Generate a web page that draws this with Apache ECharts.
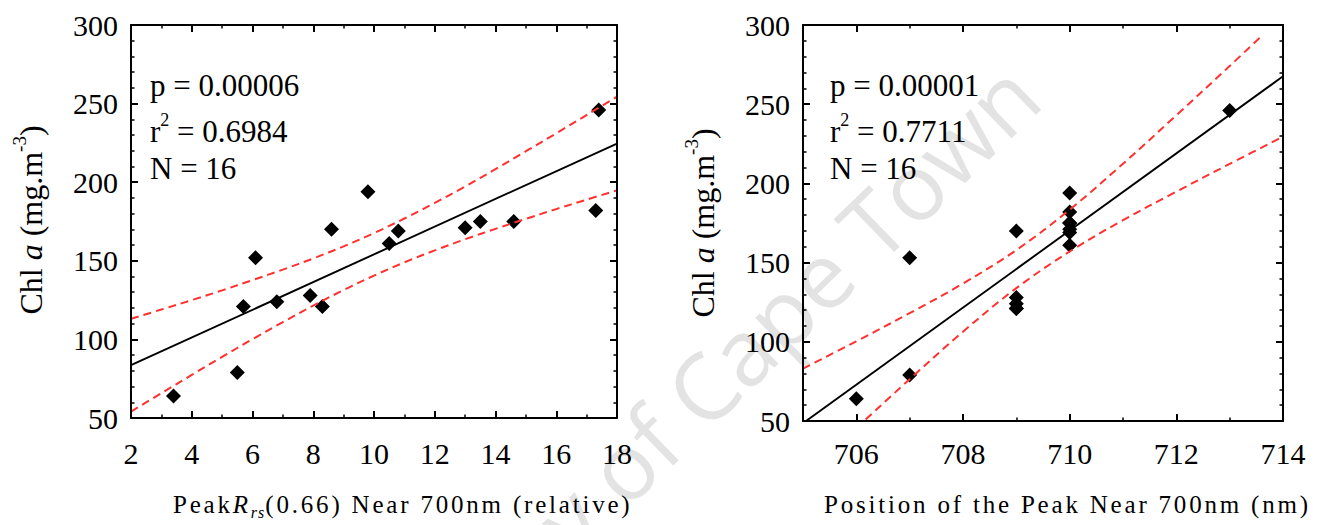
<!DOCTYPE html>
<html>
<head>
<meta charset="utf-8">
<script src="https://cdn.jsdelivr.net/npm/echarts@6/dist/echarts.min.js"></script>
<style>
html,body{margin:0;padding:0;background:#fff;}
#chart{width:1325px;height:525px;}
#chart text[style*="25px"]{letter-spacing:2.8px;}
#chart text[style*="16px"]{letter-spacing:1px;}
</style>
</head>
<body>
<div id="chart"></div>
<script>
// ---------------- data ----------------
// Left panel: Peak Rrs(0.66) vs Chl a
const leftX = [3.4, 5.5, 5.7, 6.1, 6.8, 7.9, 8.3, 8.6, 9.8, 10.5, 10.8, 13.0, 13.5, 14.6, 17.3, 17.4];
const leftY = [64, 79, 121, 152, 124, 128, 121, 170, 194, 161, 169, 171, 175, 175, 182, 246];
const leftFitX = [2, 18];
const leftFitY = [83.6, 224.6];
const leftBandX = [2, 3, 4, 5, 6, 7, 8, 9, 10, 11, 12, 13, 14, 15, 16, 17, 18];
const leftUpper = [113.1, 119.0, 125.0, 131.2, 137.7, 144.4, 151.5, 159.2, 167.6, 176.9, 186.8, 197.3, 208.3, 219.7, 231.1, 242.7, 254.4];
const leftLower = [54.1, 65.8, 77.4, 88.9, 100.1, 111.0, 121.5, 131.4, 140.6, 149.0, 156.6, 163.7, 170.3, 176.7, 182.9, 188.9, 194.8];
const leftXTicks = [2, 18, 2];          // min, max, interval
const leftStats = ['p = 0.00006', '0.6984', 'N = 16'];

// Right panel: position of the peak vs Chl a
const rightX = [706, 707, 707, 709, 709, 709, 709, 709, 710, 710, 710, 710, 710, 710, 710, 713];
const rightY = [64, 79, 153, 170, 128, 124, 121, 121, 194, 182, 175, 175, 171, 169, 161, 246];
const rightFitX = [705, 714];
const rightFitY = [48.6, 267.6];
const rightUpperX = [705, 706, 707, 708, 709, 710, 711, 712, 713, 713.6];
const rightUpper = [83.1, 100.3, 118.1, 136.8, 157.9, 183.4, 212.4, 243.0, 274.1, 293.1];
const rightLowerX = [706, 707, 708, 709, 710, 711, 712, 713, 714];
const rightLower = [45.5, 76.4, 106.4, 133.9, 157.0, 176.8, 194.8, 212.3, 229.5];
const rightXLabels = [706, 708, 710, 712, 714];
const rightXMinor = [707, 709, 711, 713];
const rightStats = ['p = 0.00001', '0.7711', 'N = 16'];

const yTicks = [50, 300, 50];             // min, max, interval

// ---------------- helpers ----------------
const SERIF = '"Liberation Serif", "Times New Roman", serif';
const pairs = (xs, ys) => xs.map((x, i) => [x, ys[i]]);

const axisLine = { show: true, onZero: false, lineStyle: { color: '#000', width: 2 } };
const majorTick = { show: true, inside: true, length: 7, lineStyle: { color: '#000', width: 2 } };
const minorTickLine = { color: '#000', width: 1.5 };
const tickLabel = (margin, extra) => Object.assign({
  show: true, margin: margin, fontSize: 30, fontFamily: SERIF, color: '#000',
  showMinLabel: true, showMaxLabel: true
}, extra || {});
const noSplit = { splitLine: { show: false }, minorSplitLine: { show: false } };

function xAx(grid, pos, min, max, interval, labelMargin, more) {
  return Object.assign({
    type: 'value', gridIndex: grid, position: pos, min: min, max: max, interval: interval,
    axisLine: axisLine, axisTick: majorTick,
    axisLabel: labelMargin == null ? { show: false } : tickLabel(labelMargin),
    z: 5
  }, noSplit, more || {});
}
function yAx(grid, pos, showLabel) {
  return Object.assign({
    type: 'value', gridIndex: grid, position: pos, min: yTicks[0], max: yTicks[1], interval: yTicks[2],
    axisLine: axisLine, axisTick: majorTick,
    minorTick: { show: true, splitNumber: 5, length: 3.5, lineStyle: minorTickLine },
    axisLabel: showLabel ? tickLabel(13, { padding: [4, 0, 0, 0] }) : { show: false },
    z: 5
  }, noSplit);
}

const leftMinorTick = { minorTick: { show: true, splitNumber: 2, length: 3.5, lineStyle: minorTickLine } };

const xAxis = [
  xAx(0, 'bottom', leftXTicks[0], leftXTicks[1], leftXTicks[2], 20, leftMinorTick),
  xAx(0, 'top', leftXTicks[0], leftXTicks[1], leftXTicks[2], null, leftMinorTick),
  xAx(1, 'bottom', rightFitX[0], rightFitX[1], 1, null, {
    axisTick: Object.assign({}, majorTick, { customValues: rightXLabels }),
    axisLabel: tickLabel(17, { customValues: rightXLabels })
  }),
  xAx(1, 'bottom', rightFitX[0], rightFitX[1], 1, null, {
    axisLine: { show: false },
    axisTick: { show: true, inside: true, length: 3.5, lineStyle: minorTickLine, customValues: rightXMinor }
  }),
  xAx(1, 'top', rightFitX[0], rightFitX[1], 1, null, {
    axisTick: Object.assign({}, majorTick, { customValues: rightXLabels })
  }),
  xAx(1, 'top', rightFitX[0], rightFitX[1], 1, null, {
    axisLine: { show: false },
    axisTick: { show: true, inside: true, length: 3.5, lineStyle: minorTickLine, customValues: rightXMinor }
  })
];

const yAxis = [
  yAx(0, 'left', true),
  yAx(0, 'right', false),
  yAx(1, 'left', true),
  yAx(1, 'right', false)
];

function scatter(xi, yi, data) {
  return { type: 'scatter', xAxisIndex: xi, yAxisIndex: yi, data: data,
    symbol: 'diamond', symbolSize: 15, itemStyle: { color: '#000', opacity: 1 }, z: 2, silent: true };
}
function fit(xi, yi, data) {
  return { type: 'line', xAxisIndex: xi, yAxisIndex: yi, data: data, symbol: 'none',
    lineStyle: { color: '#000', width: 1.9 }, z: 3, clip: true, silent: true };
}
function band(xi, yi, data) {
  return { type: 'line', xAxisIndex: xi, yAxisIndex: yi, data: data, symbol: 'none', smooth: 0.35,
    lineStyle: { color: '#ff3030', width: 2, type: [8, 5] }, z: 4, clip: true, silent: true };
}

const series = [
  scatter(0, 0, pairs(leftX, leftY)),
  fit(0, 0, pairs(leftFitX, leftFitY)),
  band(0, 0, pairs(leftBandX, leftUpper)),
  band(0, 0, pairs(leftBandX, leftLower)),
  scatter(2, 2, pairs(rightX, rightY)),
  fit(2, 2, pairs(rightFitX, rightFitY)),
  band(2, 2, pairs(rightUpperX, rightUpper)),
  band(2, 2, pairs(rightLowerX, rightLower))
];

// ---------------- texts ----------------
const annRich = {
  n: { fontSize: 31, fontFamily: SERIF, color: '#000', lineHeight: 40 },
  s: { fontSize: 18, fontFamily: SERIF, color: '#000', lineHeight: 17, verticalAlign: 'top' }
};
function statTexts(x, stats) {
  return [
    { type: 'text', x: x, y: 85.5, z: 10, silent: true,
      style: { text: stats[0], fontSize: 31, fontFamily: SERIF, fill: '#000', textAlign: 'left', verticalAlign: 'middle' } },
    { type: 'text', x: x, y: 131, z: 10, silent: true,
      style: { text: '{n|r}{s|2}{n| = ' + stats[1] + '}', rich: annRich, textAlign: 'left', verticalAlign: 'middle' } },
    { type: 'text', x: x, y: 168, z: 10, silent: true,
      style: { text: stats[2], fontSize: 31, fontFamily: SERIF, fill: '#000', textAlign: 'left', verticalAlign: 'middle' } }
  ];
}

const yTitleRich = {
  n: { fontSize: 32, fontFamily: SERIF, color: '#000', lineHeight: 42 },
  i: { fontSize: 32, fontFamily: SERIF, fontStyle: 'italic', color: '#000', lineHeight: 42 },
  s: { fontSize: 19, fontFamily: SERIF, color: '#000', lineHeight: 19, verticalAlign: 'top' }
};
function yTitle(x, y) {
  return { type: 'text', x: x, y: y, rotation: Math.PI / 2, z: 10, silent: true,
    style: { text: '{n|Chl }{i|a}{n| (mg.m}{s|-3}{n|)}', rich: yTitleRich, textAlign: 'center', verticalAlign: 'middle' } };
}

const SP = 2.8;
const xTitleRich = {
  n1: { fontSize: 25, fontFamily: SERIF, color: '#000', lineHeight: 32, padding: [0, 4 * SP, 0, 0] },
  i: { fontSize: 25, fontFamily: SERIF, fontStyle: 'italic', color: '#000', lineHeight: 32, padding: [0, SP, 0, 0] },
  s: { fontSize: 16, fontFamily: SERIF, fontStyle: 'italic', color: '#000', lineHeight: 16, verticalAlign: 'bottom', padding: [0, 2, 0, 0] },
  n2: { fontSize: 25, fontFamily: SERIF, color: '#000', lineHeight: 32 }
};

const graphic = [
  { type: 'text', x: 1022, y: 79, rotation: 44 * Math.PI / 180, z: -1, silent: true,
    style: { text: 'University of Cape Town', fontSize: 92, fontFamily: '"Open Sans", sans-serif',
      fill: '#e3e3e3', textAlign: 'right', verticalAlign: 'middle' } },
  ...statTexts(150, leftStats),
  ...statTexts(830, rightStats),
  yTitle(31, 220),
  yTitle(703, 223),
  { type: 'text', x: 173, y: 504, z: 10, silent: true,
    style: { text: '{n1|Peak}{i|R}{s|rs}{n2|(0.66) Near 700nm (relative)}', rich: xTitleRich,
      textAlign: 'left', verticalAlign: 'middle' } },
  { type: 'text', x: 824, y: 504, z: 10, silent: true,
    style: { text: 'Position of the Peak Near 700nm (nm)', fontSize: 25, fontFamily: SERIF, fill: '#000',
      textAlign: 'left', verticalAlign: 'middle' } }
];

const chart = echarts.init(document.getElementById('chart'), null, { renderer: 'svg' });
chart.setOption({
  animation: false,
  backgroundColor: '#fff',
  grid: [
    { left: 131, top: 25, width: 486, height: 393, containLabel: false },
    { left: 803, top: 25, width: 480, height: 396, containLabel: false }
  ],
  xAxis: xAxis,
  yAxis: yAxis,
  series: series,
  graphic: graphic
});
</script>
</body>
</html>
